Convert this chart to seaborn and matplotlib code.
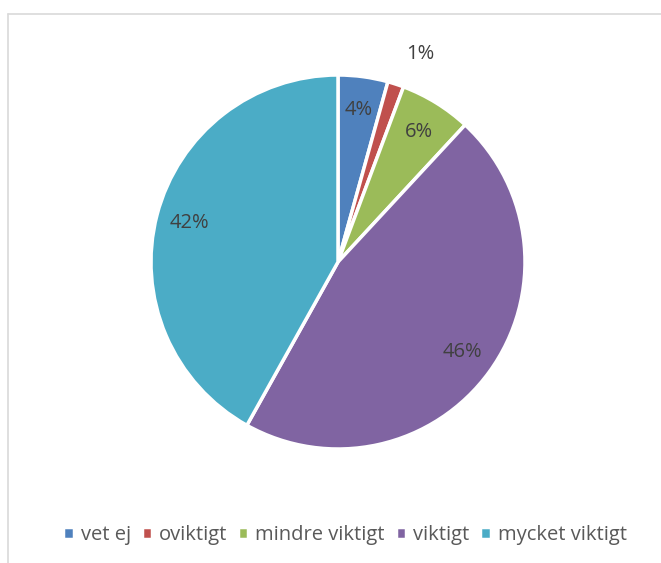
import matplotlib
matplotlib.use('Agg')
import matplotlib.pyplot as plt
import seaborn as sns
import numpy as np
from matplotlib.lines import Line2D

sns.set_theme(style='white')
plt.rcParams['font.family'] = ['Open Sans', 'DejaVu Sans']

# data
categories = ['vet ej', 'oviktigt', 'mindre viktigt', 'viktigt', 'mycket viktigt']
shares = [4.3, 1.4, 6.2, 46.2, 41.9]
colors = ['#4F81BD', '#C0504D', '#9BBB59', '#8064A2', '#4BACC6']

fig = plt.figure(figsize=(6.61, 5.63), dpi=100)
# pie area: centre ~ (338, 262) px, radius ~187 px
cx, cy, r = 338 / 661, 1 - 262 / 563, 187
ax = fig.add_axes([cx - r / 661, cy - r / 563, 2 * r / 661, 2 * r / 563])

wedges, texts, autotexts = ax.pie(
    shares, colors=colors, startangle=90, counterclock=False,
    autopct='%.0f%%', pctdistance=0.82, radius=1,
    wedgeprops=dict(edgecolor='white', linewidth=2.5),
    textprops=dict(color='#404040', fontsize=14.5))
ax.set_aspect('equal')
ax.set_xlim(-1, 1)
ax.set_ylim(-1, 1)

# small slice label outside
for w, t, s in zip(wedges, autotexts, shares):
    if s < 2:
        ang = np.deg2rad((w.theta1 + w.theta2) / 2)
        t.set_position((1.17 * np.cos(ang) + 0.08, 1.17 * np.sin(ang)))

leg = fig.legend(wedges, categories, loc='center', bbox_to_anchor=(0.522, 1 - 535 / 563),
                 ncol=5, frameon=False, fontsize=14.5, handlelength=0.5, handleheight=0.5,
                 handletextpad=0.35, columnspacing=0.55, labelcolor='#595959')

# chart frame lines (left and top)
fig.add_artist(Line2D([8 / 661, 8 / 661], [0, 1 - 14 / 563], color='#D9D9D9', lw=1.2))
fig.add_artist(Line2D([8 / 661, 1], [1 - 14 / 563, 1 - 14 / 563], color='#D9D9D9', lw=1.2))

plt.savefig('out.png', dpi=100)
